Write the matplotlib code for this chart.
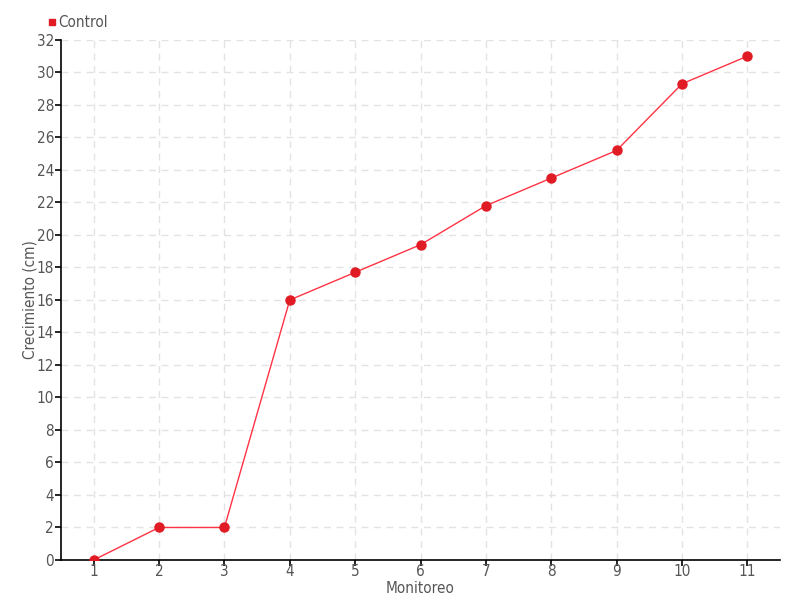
import matplotlib.pyplot as plt
from matplotlib import font_manager
from matplotlib.lines import Line2D

monitoreo = [1, 2, 3, 4, 5, 6, 7, 8, 9, 10, 11]
control = [0, 2, 2, 16, 17.7, 19.4, 21.8, 23.5, 25.2, 29.3, 31.0]
y_ticks = list(range(0, 33, 2))

names = {f.name for f in font_manager.fontManager.ttflist}
fam = "Liberation Sans Narrow" if "Liberation Sans Narrow" in names else "DejaVu Sans"
plt.rcParams['font.family'] = [fam, 'DejaVu Sans']
plt.rcParams['font.stretch'] = 'condensed'

txt = '#555555'
fig = plt.figure(figsize=(8, 6), dpi=100)
ax = fig.add_axes([0.07625, 0.0667, 0.89875, 0.8667])

ax.plot(monitoreo, control, color='#ff3344', lw=1, marker='o', markersize=6.5,
        markerfacecolor='#e01b24', markeredgecolor='#e01b24', zorder=3)

ax.set_xlim(0.5, 11.5)
ax.set_ylim(0, 32)
ax.set_xticks(monitoreo)
ax.set_yticks(y_ticks)
ax.grid(True, color='#e3e3e3', linestyle=(0, (5, 4)), lw=1)
ax.set_axisbelow(True)
for s in ['top', 'right']:
    ax.spines[s].set_visible(False)
for s in ['left', 'bottom']:
    ax.spines[s].set_linewidth(1.2)
ax.tick_params(labelsize=11, labelcolor=txt, color='black', length=4, width=1.2, pad=1)
ax.tick_params(axis='x', pad=-1)
ax.set_xlabel('Monitoreo', fontsize=11, color=txt, labelpad=1)
ax.set_ylabel('Crecimiento (cm)', fontsize=11, color=txt, labelpad=-1)

handle = Line2D([], [], marker='s', color='none', markerfacecolor='#e01b24',
                markeredgecolor='#e01b24', markersize=5)
fig.legend([handle], ['Control'], loc='upper left', bbox_to_anchor=(0.052, 0.987),
           frameon=False, fontsize=11, labelcolor=txt, handlelength=0.4,
           handletextpad=0.2, borderpad=0)

fig.savefig('out.png', dpi=100)
